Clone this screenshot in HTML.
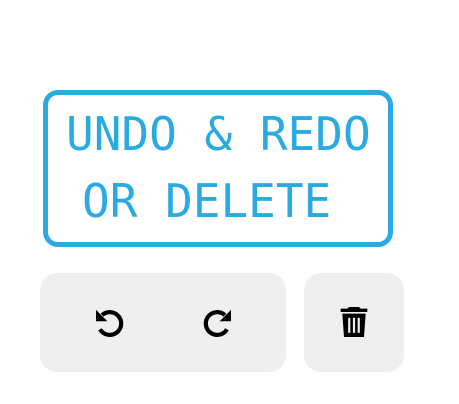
<!DOCTYPE html>
<html><head><style>
body{margin:0;width:459px;height:404px;background:#fff;position:relative;overflow:hidden}
.box{position:absolute;left:43px;top:90px;width:340px;height:147px;border:5px solid #2aaae2;border-radius:15px}
.t{position:absolute;left:0;width:459px;font-family:"DejaVu Sans Mono",monospace;font-size:46px;color:#2aaae2;white-space:pre;line-height:1}
.b{position:absolute;top:273px;height:99px;background:#efefef;border-radius:17px}
svg{position:absolute}
</style></head><body>
<div class="box"></div>
<div class="t" style="left:66px;top:111px">UNDO &amp; REDO</div>
<div class="t" style="left:82px;top:178px">OR DELETE</div>
<div class="b" style="left:40px;width:246px"></div>
<div class="b" style="left:304px;width:100px"></div>
<svg style="left:89px;top:302px" width="42" height="42" viewBox="0 0 24 24"><path d="M7.5 7.5A6.5 6.5 0 1 1 6.3 15.6" fill="none" stroke="#000" stroke-width="2.4"/><path d="M4 4.5v6.5h6.5z" fill="#000"/></svg>
<svg style="left:196px;top:302px" width="42" height="42" viewBox="0 0 24 24"><path d="M16.5 7.5A6.5 6.5 0 1 0 17.7 15.6" fill="none" stroke="#000" stroke-width="2.4"/><path d="M20 4.5v6.5h-6.5z" fill="#000"/></svg>
<svg style="left:334px;top:302px" width="40" height="40" viewBox="0 0 24 24"><path d="M9 3h6l1 1h4v2H4V4h4z" fill="#000"/><path d="M5 7h14l-1 14H6z" fill="#000"/><rect x="8.5" y="9.5" width="1.3" height="9" fill="#efefef"/><rect x="11.35" y="9.5" width="1.3" height="9" fill="#efefef"/><rect x="14.2" y="9.5" width="1.3" height="9" fill="#efefef"/></svg>
</body></html>
